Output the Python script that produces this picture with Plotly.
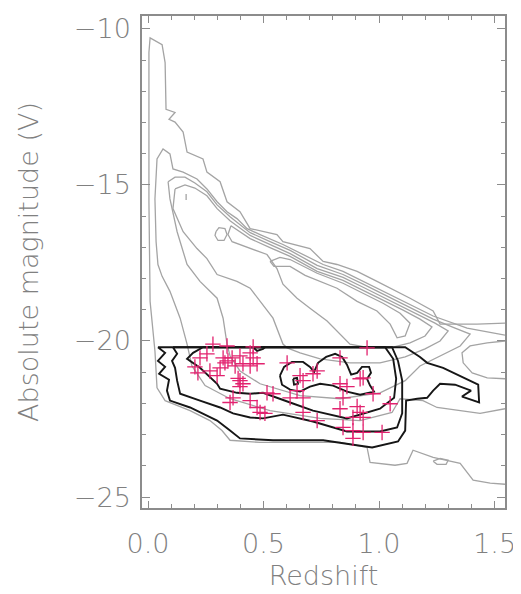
import plotly.graph_objects as go

# ---------------- data (redshift, absolute magnitude) ----------------
# grey contours: parent galaxy distribution
g1_z = [1.545, 1.424, 1.264, 1.234, 1.134, 1.078, 0.991, 0.905, 0.818, 0.758, 0.701, 0.584, 0.558, 0.442,
        0.398, 0.342, 0.312, 0.255, 0.238, 0.169, 0.152, 0.117, 0.091, 0.117, 0.078, 0.074, 0.061, 0.009,
        0.004, 0.004, 0.009, 0.030, 0.039, 0.074, 0.182, 0.268, 0.320, 0.355, 0.485, 0.831, 0.948, 0.961,
        1.069, 1.121, 1.147, 1.234, 1.351, 1.407, 1.481, 1.545]
g1_m = [-19.43, -19.46, -19.46, -19.04, -18.63, -18.41, -18.09, -17.77, -17.55, -17.45, -17.04, -16.82, -16.59, -16.40,
        -15.86, -15.54, -14.90, -14.59, -14.17, -13.95, -13.31, -12.99, -12.90, -12.68, -12.58, -11.08, -10.51, -10.29,
        -10.76, -15.54, -18.73, -20.32, -21.50, -21.91, -22.23, -22.55, -22.87, -23.18, -23.25, -23.25, -23.41, -23.89,
        -23.98, -23.92, -23.50, -23.73, -23.92, -24.46, -24.55, -24.59]

g2_z = [1.545, 1.381, 1.234, 1.104, 1.017, 0.931, 0.844, 0.758, 0.671, 0.584, 0.485, 0.429, 0.385, 0.342,
        0.299, 0.255, 0.212, 0.152, 0.108, 0.095, 0.065, 0.039, 0.030, 0.035, 0.043, 0.061, 0.095, 0.139,
        0.169, 0.190, 0.247, 0.355, 0.528, 0.745, 0.918, 1.056, 1.091, 1.190, 1.251, 1.351, 1.437, 1.545]
g2_m = [-19.81, -19.59, -19.20, -18.73, -18.41, -18.09, -17.77, -17.55, -17.23, -16.91, -16.59, -16.40, -16.08, -15.86,
        -15.54, -15.13, -14.81, -14.59, -14.49, -14.01, -13.85, -14.17, -15.45, -16.82, -17.55, -17.93, -18.41, -19.27,
        -20.10, -20.80, -21.43, -21.85, -22.23, -22.48, -22.55, -22.29, -21.85, -21.91, -22.13, -22.23, -22.32, -22.17]

g3_z = [0.087, 0.117, 0.160, 0.203, 0.255, 0.299, 0.355, 0.442, 0.528, 0.615, 0.732, 0.844, 0.931, 1.017,
        1.104, 1.177, 1.234, 1.329, 1.394, 1.351, 1.264, 1.177, 1.113, 1.004, 0.831, 0.658, 0.485, 0.398,
        0.355, 0.342, 0.325, 0.299, 0.225, 0.169, 0.126, 0.095, 0.087]
g3_m = [-14.90, -14.75, -14.75, -14.94, -15.22, -15.64, -16.02, -16.53, -16.82, -17.10, -17.58, -17.87, -18.18, -18.50,
        -18.82, -19.11, -19.30, -19.59, -19.78, -20.16, -20.48, -20.80, -21.27, -21.66, -21.85, -21.75, -21.37, -20.96,
        -20.48, -20.10, -19.27, -18.63, -18.09, -17.55, -16.50, -15.45, -14.90]

g3b_z = [1.545, 1.468, 1.394, 1.359, 1.364, 1.403, 1.468, 1.545]
g3b_m = [-20.00, -20.06, -20.16, -20.38, -20.70, -21.02, -21.18, -21.21]

g4_z = [0.117, 0.160, 0.203, 0.255, 0.299, 0.355, 0.442, 0.528, 0.615, 0.732, 0.844, 0.931, 1.017, 1.104,
        1.177, 1.242, 1.299, 1.264, 1.199, 1.113, 1.004, 0.874, 0.745, 0.658, 0.602, 0.584, 0.541, 0.485,
        0.442, 0.385, 0.299, 0.255, 0.212, 0.152, 0.108, 0.117]
g4_m = [-15.13, -15.00, -15.10, -15.35, -15.76, -16.15, -16.62, -16.91, -17.20, -17.68, -17.96, -18.28, -18.60, -18.92,
        -19.20, -19.43, -19.68, -20.00, -20.25, -20.51, -20.70, -20.70, -20.57, -20.38, -20.22, -20.10, -19.27, -18.73,
        -18.31, -18.09, -17.87, -17.36, -17.04, -16.50, -15.76, -15.13]

g5_z = [0.359, 0.442, 0.528, 0.615, 0.732, 0.844, 0.931, 1.017, 1.104, 1.177, 1.229, 1.199, 1.134, 1.048,
        0.961, 0.874, 0.831, 0.775, 0.701, 0.645, 0.584, 0.558, 0.515, 0.398, 0.364, 0.346, 0.359]
g5_m = [-16.31, -16.72, -17.01, -17.29, -17.77, -18.06, -18.38, -18.69, -19.01, -19.30, -19.55, -19.84, -20.06, -20.22,
        -20.22, -20.10, -19.78, -19.36, -18.95, -18.63, -18.18, -17.68, -17.23, -16.91, -16.82, -16.59, -16.31]

g6_z = [0.528, 0.571, 0.615, 0.732, 0.844, 0.931, 1.017, 1.091, 1.134, 1.113, 1.078, 1.048, 0.991, 0.905,
        0.818, 0.680, 0.615, 0.545, 0.528]
g6_m = [-17.45, -17.32, -17.39, -17.83, -18.15, -18.47, -18.79, -19.11, -19.43, -19.84, -19.90, -19.46, -19.04, -18.73,
        -18.31, -17.90, -17.61, -17.61, -17.45]

o1_z = [0.294, 0.307, 0.333, 0.342, 0.329, 0.303, 0.290, 0.294]
o1_m = [-16.50, -16.37, -16.40, -16.59, -16.78, -16.78, -16.62, -16.50]
o2_z = [0.165, 0.165]
o2_m = [-15.29, -15.48]
o3_z = [1.234, 1.264, 1.299, 1.290, 1.251, 1.234]
o3_m = [-23.85, -23.76, -23.82, -23.95, -23.95, -23.85]

# black contours: selected sample (M_V < -20.2)
b1_z = [0.043, 1.113, 1.177, 1.208, 1.277, 1.429, 1.433, 1.359, 1.398, 1.329, 1.264, 1.234, 1.208, 1.165,
        1.117, 1.113, 1.082, 0.970, 0.874, 0.758, 0.541, 0.398, 0.355, 0.299, 0.182, 0.095, 0.082, 0.091,
        0.048, 0.074, 0.043, 0.074, 0.043]
b1_m = [-20.2, -20.2, -20.51, -20.70, -20.86, -21.40, -21.97, -21.78, -21.59, -21.40, -21.37, -21.59, -21.82, -21.85,
        -21.91, -22.87, -23.22, -23.41, -23.31, -23.18, -23.18, -23.12, -22.87, -22.55, -22.13, -21.91, -21.59, -21.24,
        -21.05, -20.83, -20.64, -20.38, -20.2]

b2_z = [0.108, 1.056, 1.082, 1.100, 1.100, 1.078, 1.004, 0.861, 0.714, 0.584, 0.498, 0.442, 0.368, 0.312,
        0.225, 0.139, 0.126, 0.117, 0.104, 0.126, 0.108]
b2_m = [-20.2, -20.2, -20.64, -21.27, -22.32, -22.77, -22.90, -22.90, -22.58, -22.36, -22.48, -22.45, -22.32, -22.13,
        -21.91, -21.69, -21.27, -20.86, -20.64, -20.41, -20.2]

b3_z = [0.238, 1.026, 1.061, 1.074, 1.065, 1.004, 0.861, 0.714, 0.615, 0.558, 0.498, 0.442, 0.385, 0.312,
        0.299, 0.225, 0.169, 0.195, 0.238]
b3_m = [-20.2, -20.2, -20.57, -21.21, -21.82, -22.17, -22.48, -22.23, -21.97, -21.82, -21.66, -21.69, -21.66, -21.53,
        -21.37, -20.86, -20.57, -20.38, -20.2]

b4_z = [0.571, 0.589, 0.623, 0.671, 0.701, 0.719, 0.736, 0.771, 0.810, 0.840, 0.861, 0.879, 0.905, 0.926,
        0.957, 0.965, 0.948, 0.961, 0.978, 0.918, 0.861, 0.801, 0.745, 0.701, 0.658, 0.615, 0.580, 0.571]
b4_m = [-21.11, -20.83, -20.67, -20.67, -20.83, -20.99, -20.70, -20.51, -20.41, -20.51, -20.76, -21.08, -21.02, -20.83,
        -20.83, -21.02, -21.21, -21.43, -21.62, -21.72, -21.62, -21.43, -21.37, -21.46, -21.62, -21.56, -21.40, -21.11]

b5_z = [0.628, 0.645, 0.649, 0.632, 0.628]
b5_m = [-21.21, -21.18, -21.37, -21.40, -21.21]
b6_z = [0.455, 0.472, 0.498, 0.506]
b6_m = [-20.2, -20.32, -20.25, -20.2]

# individual objects (magenta crosses)
obj_z = [0.281, 0.342, 0.225, 0.255, 0.325, 0.346, 0.398, 0.442, 0.455, 0.411, 0.442, 0.472, 0.377, 0.312,
         0.216, 0.268, 0.299, 0.398, 0.411, 0.398, 0.368, 0.355, 0.442, 0.472, 0.506, 0.515, 0.541, 0.602,
         0.658, 0.671, 0.615, 0.645, 0.671, 0.671, 0.732, 0.714, 0.831, 0.948, 0.831, 0.861, 0.844, 0.918,
         0.974, 0.831, 0.905, 0.918, 0.887, 0.931, 0.844, 0.887, 0.931, 0.887, 1.013, 1.048, 0.732, 0.931,
         0.364, 0.333, 0.485, 0.203, 0.390, 0.455]
obj_m = [-20.10, -20.16, -20.54, -20.41, -20.54, -20.64, -20.48, -20.38, -20.54, -20.73, -20.80, -20.73, -20.80, -20.86,
         -21.02, -20.96, -21.11, -21.27, -21.37, -21.46, -21.82, -21.97, -21.91, -22.13, -22.32, -21.66, -21.69, -20.70,
         -21.11, -21.27, -21.82, -21.59, -21.82, -22.29, -22.55, -21.05, -20.54, -20.22, -21.37, -21.46, -21.82, -21.21,
         -21.69, -22.17, -22.10, -22.29, -22.45, -22.45, -22.77, -22.87, -22.93, -23.12, -22.93, -22.01, -20.96, -21.18,
         -20.54, -20.70, -22.29, -20.83, -21.20, -20.19]

# axis ticks
x_ticks = [0.0, 0.5, 1.0, 1.5]
x_tick_text = ["0.0", "0.5", "1.0", "1.5"]
y_ticks = [-10, -15, -20, -25]

# ---------------- figure ----------------
GREY = "#a4a4a4"
BLACK = "#161616"
AXIS = "#8c8c8c"
TXT = "#808080"

fig = go.Figure()

grey_sets = [(g1_z, g1_m), (g2_z, g2_m), (g3_z, g3_m), (g3b_z, g3b_m), (g4_z, g4_m),
             (g5_z, g5_m), (g6_z, g6_m), (o1_z, o1_m), (o2_z, o2_m), (o3_z, o3_m)]
for zz, mm in grey_sets:
    fig.add_trace(go.Scatter(x=zz, y=mm, mode="lines",
                             line=dict(color=GREY, width=1.3), hoverinfo="skip"))

black_sets = [(b1_z, b1_m), (b2_z, b2_m), (b3_z, b3_m), (b4_z, b4_m), (b5_z, b5_m), (b6_z, b6_m)]
for zz, mm in black_sets:
    fig.add_trace(go.Scatter(x=zz, y=mm, mode="lines",
                             line=dict(color=BLACK, width=1.9), hoverinfo="skip"))

fig.add_trace(go.Scatter(x=obj_z, y=obj_m, mode="markers",
                         marker=dict(symbol="cross-thin", size=11,
                                     line=dict(color="#e2226f", width=1.3))))

font = dict(family="DejaVu Sans", size=27, color=TXT, weight=200)

# the page body adds an 8 px offset, compensated in the margins
fig.update_layout(
    width=521, height=594,
    margin=dict(l=134, r=24, t=5, b=94),
    paper_bgcolor="white", plot_bgcolor="white",
    showlegend=False,
    font=font,
)
fig.update_xaxes(
    range=[-0.026, 1.545],
    tickvals=x_ticks, ticktext=x_tick_text,
    ticks="inside", ticklen=7, tickwidth=1.2, tickcolor=AXIS,
    minor=dict(dtick=0.1, tick0=0, ticks="inside", ticklen=4, tickwidth=1.2, tickcolor=AXIS),
    showline=True, linecolor=AXIS, linewidth=1.5, mirror="allticks",
    showgrid=False, zeroline=False,
    tickfont=font, ticklabelstandoff=11,
    title=dict(text="Redshift", font=font, standoff=8),
)
fig.update_yaxes(
    range=[-25.35, -9.59],
    tickvals=y_ticks,
    ticks="inside", ticklen=8, tickwidth=1.2, tickcolor=AXIS,
    minor=dict(dtick=1, tick0=-25, ticks="inside", ticklen=4, tickwidth=1.2, tickcolor=AXIS),
    showline=True, linecolor=AXIS, linewidth=1.5, mirror="allticks",
    showgrid=False, zeroline=False,
    tickfont=font, ticklabelstandoff=4,
    title=dict(text="Absolute magnitude (V)", font=font, standoff=27),
)

fig.write_html("out.html")
